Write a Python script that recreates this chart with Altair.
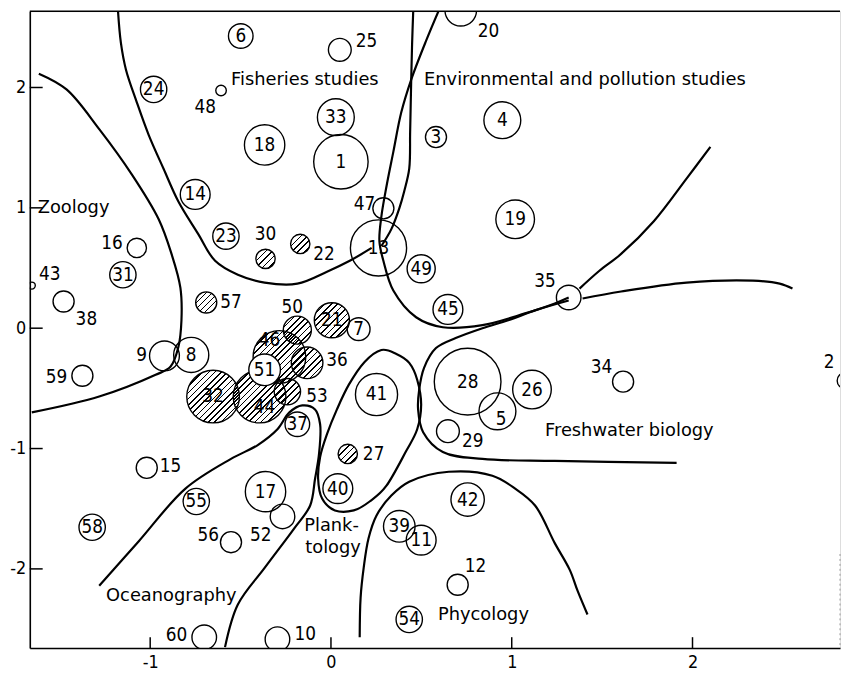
import math
import altair as alt
import pandas as pd

# ---------------- journals (circles) ----------------
ids = list(range(1, 61))
cx = [0.055, 2.844, 0.581, 0.948, 0.921, -0.499, 0.153, -0.773, -0.921, -0.296,
      0.499, 0.701, 0.263, -0.751, -1.019, -1.074, -0.362, -0.367, 1.019, 0.718,
      0.005, -0.170, -0.581, -0.981, 0.049, 1.112, 0.093, 0.756, 0.647, -0.362,
      -1.151, -0.652, 0.027, 1.616, 1.315, -0.132, -0.186, -1.479, 0.378, 0.038,
      0.252, 0.756, -1.655, -0.395, 0.647, -0.285, 0.290, -0.608, 0.499, -0.186,
      -0.367, -0.268, -0.241, 0.433, -0.745, -0.553, -0.690, -1.321, -1.375, -0.701]
cy = [1.383, -0.436, 1.588, 1.728, -0.691, 2.428, -0.008, -0.222, -0.230, -2.584,
      -1.761, -2.132, 0.667, 1.111, -1.160, 0.667, -1.358, 1.523, 0.905, 2.642,
      0.066, 0.700, 0.765, 1.984, 2.313, -0.510, -1.045, -0.444, -0.856, 0.576,
      0.444, -0.568, 1.753, -0.444, 0.255, -0.288, -0.798, 0.222, -1.646, -1.333,
      -0.551, -1.424, 0.354, -0.568, 0.156, -0.239, 0.996, 1.975, 0.494, -0.016,
      -0.346, -1.564, -0.527, -2.420, -1.440, -1.778, 0.214, -1.654, -0.395, -2.568]
weight = [31, 9, 12, 21, 21, 14, 13, 20, 17, 14,
          17, 12, 32, 17, 12, 11, 23, 23, 22, 18,
          20, 11, 15, 15, 13, 22, 11, 38, 13, 11,
          15, 30, 21, 12, 14, 18, 14, 12, 18, 17,
          24, 19, 4, 30, 17, 30, 12, 6, 16, 16,
          18, 14, 15, 15, 15, 12, 12, 15, 12, 14]
hatched_ids = [21, 22, 27, 30, 32, 36, 44, 46, 50, 53, 57]
white_ids = [51]

# labels written beside (not centred in) their circle
label_at = {
    2: (2.756, -0.28), 5: (0.942, -0.757), 9: (-1.047, -0.222), 10: (-0.142, -2.543),
    12: (0.800, -1.975), 15: (-0.888, -1.144), 16: (-1.211, 0.708), 20: (0.871, 2.469),
    22: (-0.038, 0.617), 25: (0.197, 2.387), 27: (0.236, -1.045), 29: (0.784, -0.938),
    30: (-0.362, 0.782), 34: (1.496, -0.321), 35: (1.184, 0.395), 36: (0.033, -0.263),
    38: (-1.353, 0.074), 43: (-1.556, 0.453), 44: (-0.367, -0.658), 46: (-0.340, -0.099),
    47: (0.186, 1.029), 48: (-0.696, 1.835), 50: (-0.214, 0.173), 52: (-0.389, -1.720),
    53: (-0.077, -0.568), 56: (-0.679, -1.720), 57: (-0.553, 0.214), 59: (-1.518, -0.403),
    60: (-0.855, -2.551),
}

# ---------------- boundary curves ----------------
zoology_curve = [(-1.616, 2.115), (-1.463, 1.984), (-1.282, 1.654), (-1.101, 1.276),
                 (-0.953, 0.905), (-0.882, 0.617), (-0.833, 0.337), (-0.827, 0.066),
                 (-0.844, -0.156), (-0.888, -0.321), (-0.970, -0.387), (-1.282, -0.568),
                 (-1.655, -0.700)]
fisheries_curve = [(-1.178, 2.634), (-1.162, 2.370), (-1.134, 2.148), (-1.074, 1.877),
                   (-1.008, 1.605), (-0.926, 1.325), (-0.844, 1.053), (-0.734, 0.782),
                   (-0.641, 0.560), (-0.515, 0.444), (-0.367, 0.379), (-0.186, 0.370),
                   (-0.022, 0.469), (0.104, 0.560), (0.225, 0.667)]
fisheries_right = [(0.455, 2.634), (0.449, 2.370), (0.444, 2.066), (0.438, 1.630),
                   (0.433, 1.325), (0.405, 1.136), (0.378, 0.996), (0.334, 0.823),
                   (0.279, 0.683)]
environment_curve = [(0.597, 2.642), (0.526, 2.387), (0.444, 2.066), (0.389, 1.794),
                     (0.345, 1.465), (0.307, 1.177), (0.279, 0.930), (0.268, 0.724),
                     (0.290, 0.560), (0.345, 0.313), (0.471, 0.091), (0.619, 0.008),
                     (0.838, 0.025), (1.074, 0.123), (1.238, 0.206), (1.315, 0.255)]
northeast_curve = [(1.375, 0.329), (1.485, 0.477), (1.605, 0.617), (1.786, 0.889),
                   (1.967, 1.243), (2.099, 1.506)]
east_curve = [(1.392, 0.247), (1.605, 0.305), (1.967, 0.379), (2.334, 0.395),
              (2.482, 0.370), (2.553, 0.329)]
freshwater_curve = [(1.315, 0.230), (1.129, 0.148), (0.981, 0.066), (0.838, 0.000),
                    (0.690, -0.082), (0.581, -0.165), (0.515, -0.329), (0.488, -0.510),
                    (0.482, -0.675), (0.510, -0.864), (0.619, -1.029), (0.838, -1.086),
                    (1.238, -1.103), (1.912, -1.119)]
ocean_curve = [(-1.282, -2.140), (-1.063, -1.770), (-0.805, -1.333), (-0.553, -1.086),
               (-0.405, -0.971), (-0.296, -0.840), (-0.230, -0.700), (-0.159, -0.642),
               (-0.088, -0.675), (-0.060, -0.798), (-0.066, -1.045), (-0.088, -1.251),
               (-0.115, -1.473), (-0.203, -1.663), (-0.367, -1.992), (-0.515, -2.296),
               (-0.586, -2.650)]
phycology_curve = [(0.159, -2.568), (0.164, -2.239), (0.181, -1.992), (0.208, -1.745),
                   (0.252, -1.556), (0.334, -1.391), (0.433, -1.276), (0.652, -1.193),
                   (0.893, -1.226), (1.019, -1.333), (1.129, -1.473), (1.238, -1.786),
                   (1.321, -2.008), (1.364, -2.181), (1.419, -2.379)]
planktology_loop = [(0.279, -0.181), (0.362, -0.214), (0.433, -0.288), (0.477, -0.428),
                    (0.499, -0.634), (0.477, -0.840), (0.416, -1.021), (0.307, -1.309),
                    (0.214, -1.440), (0.126, -1.514), (0.022, -1.514), (-0.049, -1.416),
                    (-0.071, -1.251), (-0.060, -1.070), (-0.022, -0.881), (0.033, -0.675),
                    (0.099, -0.469), (0.186, -0.280)]

# ---------------- region names ----------------
region_text = ["Zoology", "Fisheries studies", "Environmental and pollution studies",
               "Freshwater biology", "Plank-", "tology", "Oceanography", "Phycology"]
region_x = [-1.622, -0.553, 0.515, 1.184, -0.148, -0.142, -1.244, 0.592]
region_y = [0.996, 2.058, 2.058, -0.856, -1.646, -1.827, -2.222, -2.387]

x_ticks = [-1, 0, 1, 2]
y_ticks = [-2, -1, 0, 1, 2]

# ---------------- build tables ----------------
W, H = 818, 643
X_DOM = [-1.666, 2.816]
Y_DOM = [-2.658, 2.634]

circles = pd.DataFrame({"id": ids, "x": cx, "y": cy, "w": weight})
circles["kind"] = ["hatched" if i in hatched_ids else ("white" if i in white_ids else "open")
                   for i in ids]
circles["lab"] = [str(i) for i in ids]
circles["lx"] = [label_at.get(i, (x, y))[0] for i, x, y in zip(ids, cx, cy)]
circles["ly"] = [label_at.get(i, (x, y))[1] for i, x, y in zip(ids, cx, cy)]

open_curves = {
    "zoology": zoology_curve, "fisheries": fisheries_curve, "fish_right": fisheries_right,
    "environment": environment_curve, "northeast": northeast_curve, "east": east_curve,
    "freshwater": freshwater_curve, "ocean": ocean_curve, "phycology": phycology_curve,
}
rows = []
for name, pts in open_curves.items():
    for k, (x, y) in enumerate(pts):
        rows.append({"curve": name, "i": k, "x": x, "y": y})
curve_df = pd.DataFrame(rows)
loop_df = pd.DataFrame([{"curve": "plankt", "i": k, "x": x, "y": y}
                        for k, (x, y) in enumerate(planktology_loop)])
regions = pd.DataFrame({"t": region_text, "x": region_x, "y": region_y})

xsc = alt.Scale(domain=X_DOM, nice=False, zero=False)
ysc = alt.Scale(domain=Y_DOM, nice=False, zero=False)
NUMFONT = "DejaVu Sans Condensed, Liberation Sans Narrow, DejaVu Sans, sans-serif"
xax = alt.Axis(values=x_ticks, ticks=False, grid=False, title=None, domainColor="black",
               domainWidth=1.6, labelFontSize=18, labelFont=NUMFONT, labelColor="black",
               labelPadding=6, labelExpr="'' + datum.value", labelFlush=False)
yax = alt.Axis(values=y_ticks, ticks=False, grid=False, title=None, domainColor="black",
               domainWidth=1.6, labelFontSize=18, labelFont=NUMFONT, labelColor="black",
               labelPadding=4, labelExpr="'' + datum.value", labelFlush=False)


def X(f):
    return alt.X(f, type="quantitative", scale=xsc, axis=xax)


def Y(f):
    return alt.Y(f, type="quantitative", scale=ysc, axis=yax)


size_enc = alt.Size("w:Q", scale=alt.Scale(type="pow", exponent=2, domain=[0, 40],
                                           range=[0, math.pi * 1600]), legend=None)

lines = alt.Chart(curve_df).mark_line(color="black", strokeWidth=2.2,
                                      interpolate="catmull-rom", clip=True).encode(
    x=X("x"), y=Y("y"), detail="curve:N", order="i:Q")
loop = alt.Chart(loop_df).mark_line(color="black", strokeWidth=2.2,
                                    interpolate="cardinal-closed").encode(
    x=X("x"), y=Y("y"), order="i:Q")


def hatch(r):
    n = max(3, round(2 * r * math.sqrt(2) / 5.0))
    stops = []
    for k in range(n):
        a, b, c = k / n, (k + 0.74) / n, (k + 1) / n
        stops += [alt.GradientStop(color="rgba(255,255,255,0)", offset=a),
                  alt.GradientStop(color="rgba(255,255,255,0)", offset=b),
                  alt.GradientStop(color="black", offset=b),
                  alt.GradientStop(color="black", offset=c)]
    return alt.LinearGradient(gradient="linear", stops=stops, x1=0, y1=0, x2=1, y2=1)


layers = [lines, loop]
for hid in hatched_ids:
    r = weight[ids.index(hid)]
    layers.append(
        alt.Chart(circles).transform_filter(alt.datum.id == hid)
        .mark_point(shape="circle", filled=True, fill=hatch(r), stroke="black",
                    strokeWidth=1.4, opacity=1, clip=True)
        .encode(x=X("x"), y=Y("y"), size=size_enc)
    )
layers.append(
    alt.Chart(circles).transform_filter(alt.datum.kind == "white")
    .mark_point(shape="circle", filled=True, fill="white", stroke="black",
                strokeWidth=1.4, opacity=1, clip=True)
    .encode(x=X("x"), y=Y("y"), size=size_enc)
)
layers.append(
    alt.Chart(circles).transform_filter(alt.datum.kind == "open")
    .mark_point(shape="circle", filled=False, stroke="black", strokeWidth=1.4,
                opacity=1, clip=True)
    .encode(x=X("x"), y=Y("y"), size=size_enc)
)
layers.append(
    alt.Chart(circles).mark_text(font=NUMFONT, fontSize=19, color="black",
                                 align="center", baseline="middle")
    .encode(x=X("lx"), y=Y("ly"), text="lab:N")
)
layers.append(
    alt.Chart(regions).mark_text(font="DejaVu Sans", fontSize=18, color="black",
                                 align="left", baseline="middle")
    .encode(x=X("x"), y=Y("y"), text="t:N")
)
# inward tick marks and frame
layers.append(
    alt.Chart(pd.DataFrame({"t": x_ticks})).mark_rule(color="black", strokeWidth=1.5)
    .encode(x=X("t"), y=alt.value(H), y2=alt.value(H - 11))
)
layers.append(
    alt.Chart(pd.DataFrame({"t": y_ticks})).mark_rule(color="black", strokeWidth=1.5)
    .encode(y=Y("t"), x=alt.value(0), x2=alt.value(13))
)
frame = pd.DataFrame({"a": [0]})
layers.append(
    alt.Chart(frame).mark_rule(color="black", strokeWidth=1.6)
    .encode(x=alt.value(0), x2=alt.value(W), y=alt.value(0))
)
layers.append(
    alt.Chart(frame).mark_rule(color="#999999", strokeWidth=1, strokeDash=[2, 3])
    .encode(x=alt.value(W), y=alt.value(H - 95), y2=alt.value(H))
)

chart = alt.layer(*layers).properties(
    width=W, height=H,
    autosize=alt.AutoSizeParams(type="none"),
    padding={"left": 22, "top": 0, "right": 2, "bottom": 29},
).configure_view(stroke=None).configure(background="white")

chart.save("out.html", embed_options={"renderer": "svg", "actions": False})
